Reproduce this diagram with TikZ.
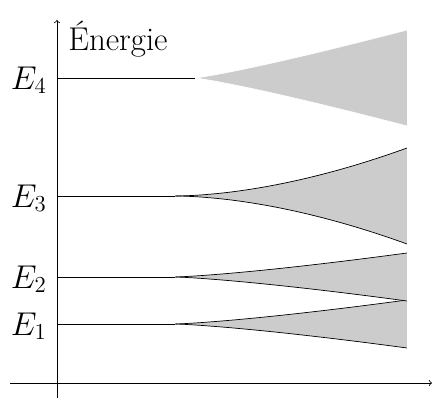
\documentclass[tikz,border=0pt]{standalone}
\usepackage{amsmath}
\usepackage{tikz}
\usetikzlibrary{arrows}

\begin{document}
\begin{tikzpicture}[>=to]
 \tikzstyle{axe}=[->,line width=0.6pt]
 \tikzstyle{niveau}=[line width=0.5pt]
 \tikzstyle{bande}=[fill=gray!40,draw=none]
 \tikzstyle{bord}=[line width=0.5pt]
 \tikzstyle{texte}=[font=\huge,scale=1.13,inner sep=0pt]
 \tikzstyle{etiquette}=[texte,anchor=east,xshift=-0.22cm,yshift=-0.05cm]
 \useasboundingbox (0,0) rectangle (10.875,10.025);
 % axes
 \coordinate (bas) at (1.425,0.075);
 \coordinate (haut) at (1.425,9.525);
 \coordinate (gauche) at (0.25,0.45);
 \coordinate (droite) at (10.8,0.45);
 \draw[axe] (bas) -- (haut);
 \draw[axe] (gauche) -- (droite);
 \node (energie) [texte,anchor=west] at (1.7,9.05) {Énergie};
 % niveaux et bandes : nom/hauteur/demi-largeur/exposant/debut/couleur du bord
 \foreach \n/\y/\w/\p/\d/\c in {1/1.925/0.6/1.3/4.375/black,
                                 2/3.1/0.6/1.3/4.375/black,
                                 3/5.125/1.2/1.75/4.375/black,
                                 4/8.075/1.2/1.15/4.875/white}{
   \coordinate (a\n) at (1.425,\y);
   \coordinate (b\n) at (\d,\y);
   \node (E\n) [etiquette] at (a\n) {$E_\n$};
   \draw[niveau] (a\n) -- (b\n);
   \fill[bande] (b\n) plot[domain=0.002:1,samples=50]
       ({\d+(10.175-\d)*\x},{\y+\w*pow(\x,\p)})
     -- plot[domain=1:0.002,samples=50]
       ({\d+(10.175-\d)*\x},{\y-\w*pow(\x,\p)}) -- cycle;
   \draw[bord,draw=\c] (b\n) plot[domain=0.002:1,samples=50]
       ({\d+(10.175-\d)*\x},{\y+\w*pow(\x,\p)});
   \draw[bord,draw=\c] (b\n) plot[domain=0.002:1,samples=50]
       ({\d+(10.175-\d)*\x},{\y-\w*pow(\x,\p)});
 }
\end{tikzpicture}
\end{document}
